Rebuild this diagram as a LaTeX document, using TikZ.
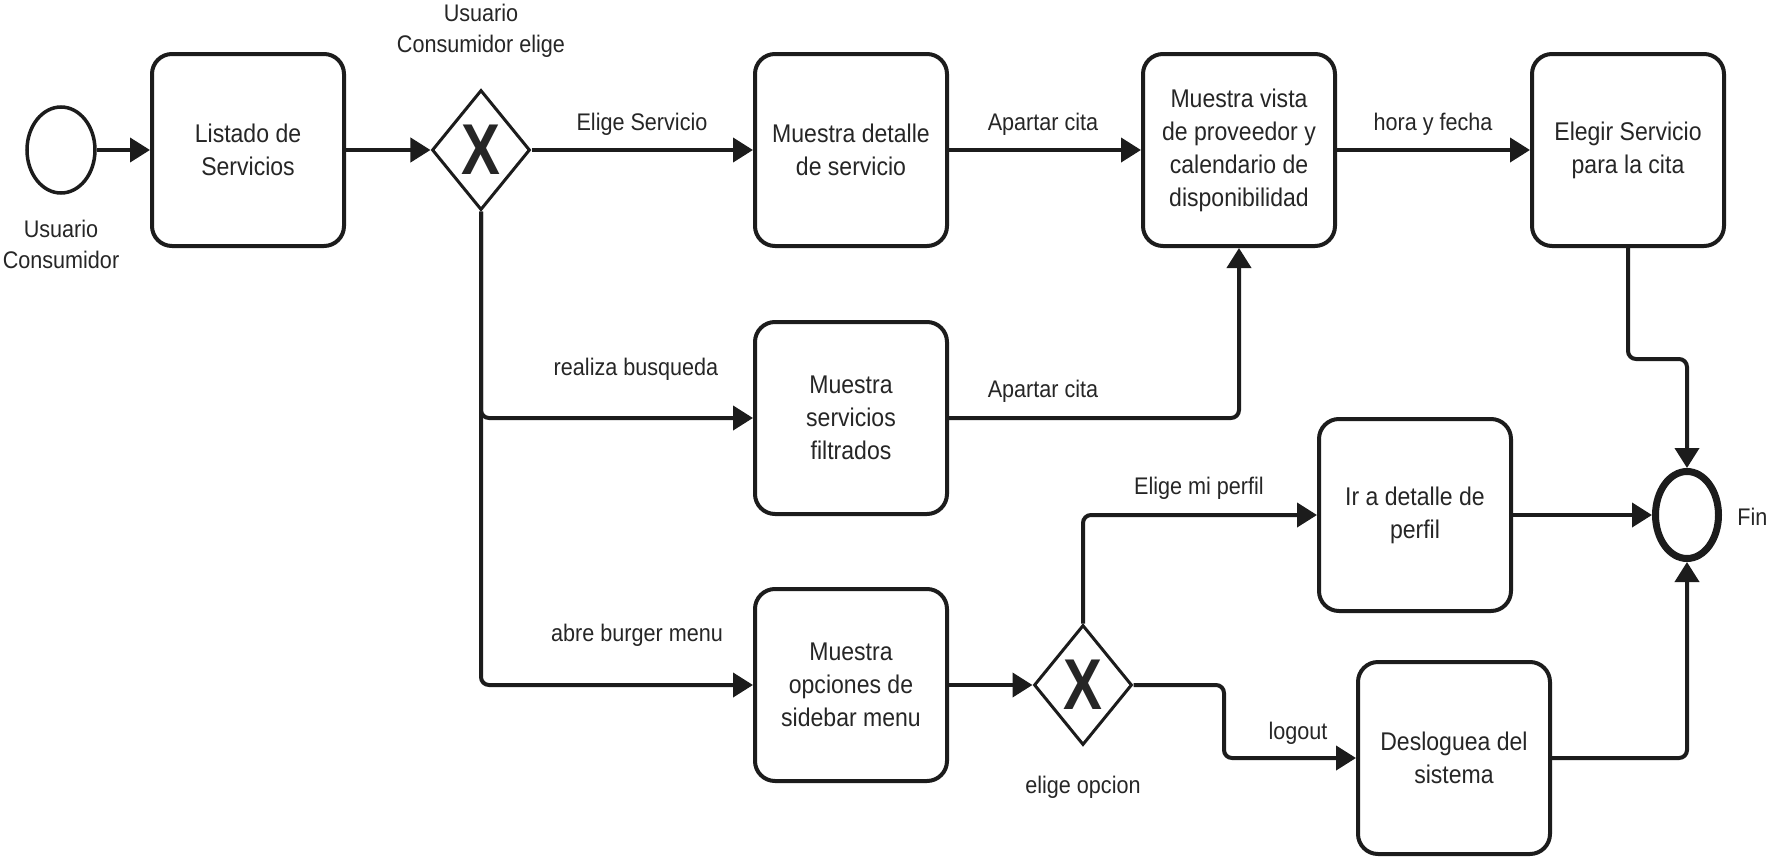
\documentclass[tikz,border=0pt]{standalone}
\usepackage{fontspec}
\usepackage{graphicx}
\setmainfont{Liberation Sans}[FakeStretch=0.9]
\usetikzlibrary{shapes.geometric,arrows.meta}

\definecolor{ink}{HTML}{1C1C1C}
\definecolor{txt}{HTML}{262626}

\begin{document}
\begin{tikzpicture}[x=0.5pt,y=-0.5pt,
  every node/.style={text=txt},
  task/.style={draw=ink, rounded corners=10pt, line width=2pt,
    minimum width=96pt, minimum height=96pt, align=center, inner sep=2pt,
    font=\fontsize{12.8pt}{16.5pt}\selectfont},
  gate/.style={draw=ink, diamond, line width=1.5pt, minimum width=49pt,
    minimum height=60pt, inner sep=0pt,
    label={center:{\bfseries\fontsize{36pt}{36pt}\selectfont\scalebox{0.9}[1]{X}}}},
  startev/.style={draw=ink, ellipse, line width=1.75pt, minimum width=34pt,
    minimum height=43pt, inner sep=0pt},
  endev/.style={draw=ink, ellipse, line width=3.5pt, minimum width=31.5pt,
    minimum height=43.5pt, inner sep=0pt},
  flow/.style={draw=ink, line width=2pt, rounded corners=4pt,
    -{Triangle[length=10pt,width=12pt]}},
  lbl/.style={align=center, font=\fontsize{12pt}{15.5pt}\selectfont},
]
\useasboundingbox[fill=white] (0,0) rectangle (1769,857);

% events and gateways
\node[startev] (start) at (61,150) {};
\node[endev]   (fin)   at (1687,515) {};
\node[gate]    (gw1)   at (481,150) {};
\node[gate]    (gw2)   at (1083,685) {};

% tasks
\node[task] (listado)   at (248,150)  {Listado de\\Servicios};
\node[task] (detalle)   at (851,150)  {Muestra detalle\\de servicio};
\node[task] (vista)     at (1239,150) {Muestra vista\\de proveedor y\\calendario de\\disponibilidad};
\node[task] (elegir)    at (1628,150) {Elegir Servicio\\para la cita};
\node[task] (filtrados) at (851,418)  {Muestra\\servicios\\filtrados};
\node[task] (opciones)  at (851,685)  {Muestra\\opciones de\\sidebar menu};
\node[task] (perfil)    at (1415,515) {Ir a detalle de\\perfil};
\node[task] (deslog)    at (1454,758) {Desloguea del\\sistema};

% bend points
\coordinate (logoutbend) at (1224,685);
\coordinate (elegirbend) at (1628,359);

% event and gateway captions
\node[lbl] (lstart) at (61,244) {Usuario\\Consumidor};
\node[lbl] (lgw1)   at (481,31) {Usuario\\Consumidor elige};
\node[lbl] (lgw2)   at (1083,787) {elige opcion};
\node[lbl, anchor=west, inner sep=0pt] (lfin) at (1737,517) {Fin};

% sequence flows
\draw[flow] (start) -- (listado);
\draw[flow] (listado) -- (gw1);
\draw[flow] (gw1) -- (detalle);
\draw[flow] (detalle) -- (vista);
\draw[flow] (vista) -- (elegir);
\draw[flow] (gw1.south) |- (filtrados.west);
\draw[flow] (gw1.south) |- (opciones.west);
\draw[flow] (filtrados.east) -| (vista.south);
\draw[flow] (opciones) -- (gw2);
\draw[flow] (gw2.north) |- (perfil.west);
\draw[flow] (gw2.east) -- (logoutbend) |- (deslog.west);
\draw[flow] (perfil) -- (fin);
\draw[flow] (elegir.south) -- (elegirbend) -| (fin.north);
\draw[flow] (deslog.east) -| (fin.south);

% flow labels
\node[lbl] (l1) at (642,124)  {Elige Servicio};
\node[lbl] (l2) at (1043,124) {Apartar cita};
\node[lbl] (l3) at (1433,124) {hora y fecha};
\node[lbl] (l4) at (636,369)  {realiza busqueda};
\node[lbl] (l5) at (1043,391) {Apartar cita};
\node[lbl] (l6) at (637,635)  {abre burger menu};
\node[lbl] (l7) at (1199,488) {Elige mi perfil};
\node[lbl] (l8) at (1298,733) {logout};
\end{tikzpicture}
\end{document}
